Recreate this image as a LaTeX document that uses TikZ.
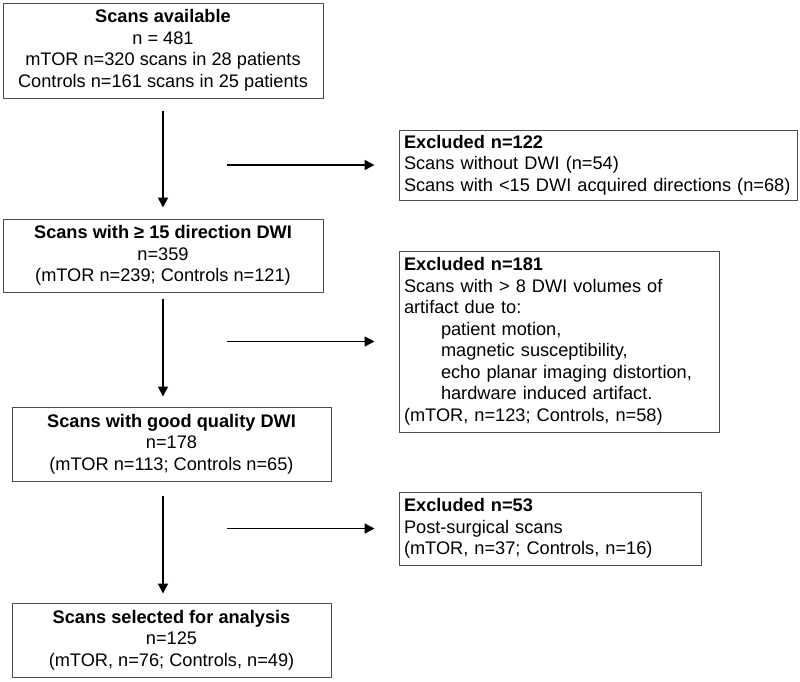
\documentclass[tikz,border=0pt]{standalone}
\usepackage{fontspec}
\setmainfont{Liberation Sans}
\usetikzlibrary{arrows.meta}

\begin{document}
\begin{tikzpicture}[x=1pt, y=-1pt]
    % --- DEFINE STYLES ---
    % Style for the boxes of the main flow
    \tikzstyle{flowbox} = [draw=black!70, line width=1pt, inner sep=0pt, align=center, font=\fontsize{18.2}{21.5}\selectfont]
    % Style for the boxes of excluded scans
    \tikzstyle{exclbox} = [flowbox, align=left, inner xsep=5pt]
    % Style for the arrows
    \tikzstyle{flowarrow} = [-{Triangle[length=10pt, width=10pt]}, line width=1.6pt]

    \useasboundingbox (0,0) rectangle (800,681);

    % --- MAIN FLOW ---
    \node[flowbox, minimum width=320pt, minimum height=95pt] (avail) at (163, 50.5)
        {\textbf{Scans available}\\ n = 481\\ mTOR n=320 scans in 28 patients\\ Controls n=161 scans in 25 patients};
    \node[flowbox, minimum width=320pt, minimum height=73pt] (dwi15) at (163, 255.5)
        {\textbf{Scans with ≥ 15 direction DWI}\\ n=359\\ (mTOR n=239; Controls n=121)};
    \node[flowbox, minimum width=319pt, minimum height=74pt] (good) at (171.5, 444)
        {\textbf{Scans with good quality DWI}\\ n=178\\ (mTOR n=113; Controls n=65)};
    \node[flowbox, minimum width=319pt, minimum height=74pt] (selected) at (171.5, 640)
        {\textbf{Scans selected for analysis}\\ n=125\\ (mTOR, n=76; Controls, n=49)};

    % --- EXCLUSIONS ---
    \node[exclbox, text width=388pt, minimum height=70pt] (excl1) at (598, 165)
        {\textbf{Excluded n=122}\\ Scans without DWI (n=54)\\ Scans with <15 DWI acquired directions (n=68)};
    \node[exclbox, text width=310pt, minimum height=181pt] (excl2) at (559, 341.5)
        {\textbf{Excluded n=181}\\ Scans with > 8 DWI volumes of\\ artifact due to:\\
         \hspace*{37pt}patient motion,\\ \hspace*{37pt}magnetic susceptibility,\\
         \hspace*{37pt}echo planar imaging distortion,\\ \hspace*{37pt}hardware induced artifact.\\
         (mTOR, n=123; Controls, n=58)};
    \node[exclbox, text width=292pt, minimum height=73pt] (excl3) at (550, 528.5)
        {\textbf{Excluded n=53}\\ Post-surgical scans\\ (mTOR, n=37; Controls, n=16)};

    % Start points of the exclusion arrows
    \coordinate (out1) at (227, 165);
    \coordinate (out2) at (227, 341.5);
    \coordinate (out3) at (227, 528.5);

    % --- ARROWS ---
    \draw[flowarrow, shorten <=12pt, shorten >=11pt] (avail.south) -- (dwi15.north);
    \draw[flowarrow, shorten <=6pt, shorten >=10pt] (dwi15.south) -- (dwi15.south |- good.north);
    \draw[flowarrow, shorten <=14pt, shorten >=9pt] (dwi15.south |- good.south) -- (dwi15.south |- selected.north);

    \draw[flowarrow, shorten >=24pt] (out1) -- (excl1.west);
    \draw[flowarrow, shorten >=24pt] (out2) -- (excl2.west);
    \draw[flowarrow, shorten >=24pt] (out3) -- (excl3.west);
\end{tikzpicture}
\end{document}
